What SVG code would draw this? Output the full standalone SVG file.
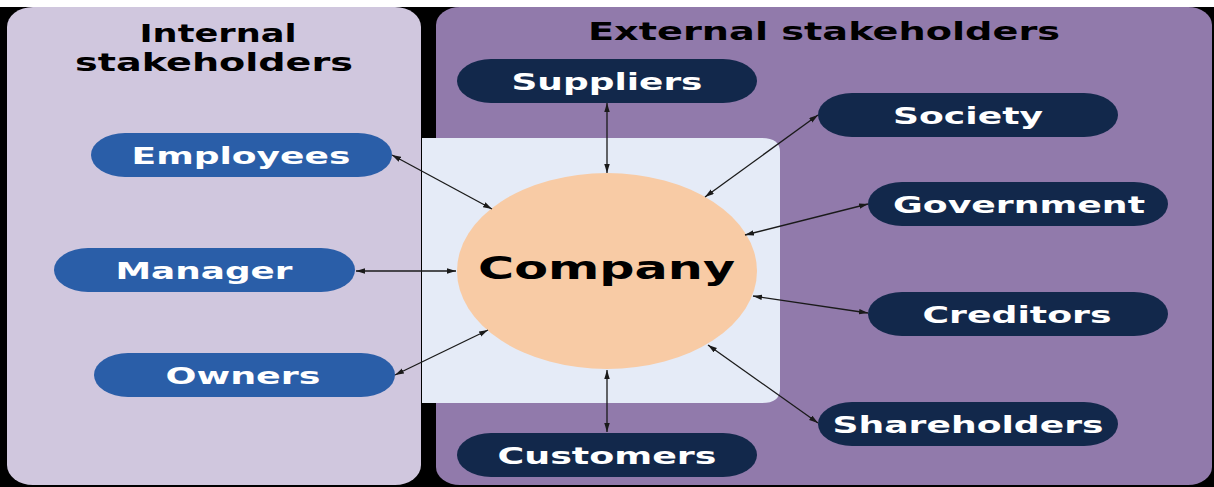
<svg xmlns="http://www.w3.org/2000/svg" width="1214" height="487" viewBox="0 0 1214 487">
  <style>
    .t { font-family: "DejaVu Sans", "Verdana", sans-serif; font-weight: bold; text-anchor: middle; }
    .pt { font-size: 23px; fill: #ffffff; }
    .int { fill: #2a5ea8; }
    .ext { fill: #12284b; }
    .conn { stroke: #1a1a1a; stroke-width: 1.3; fill: none; marker-start: url(#ah); marker-end: url(#ah); }
  </style>
  <defs>
    <marker id="ah" markerUnits="userSpaceOnUse" markerWidth="10" markerHeight="6" refX="9" refY="2.75" orient="auto-start-reverse">
      <path d="M0,0 L9,2.75 L0,5.5 z" fill="#1a1a1a"/>
    </marker>
  </defs>

  <rect x="0" y="0" width="1214" height="487" fill="#ffffff"/>
  <rect x="0" y="7" width="1214" height="480" fill="#000000"/>

  <g id="internal-panel">
    <rect x="7" y="7" width="414" height="478" rx="26" ry="20" fill="#d0c7de"/>
    <text class="t" x="218" y="42" font-size="25" textLength="157" lengthAdjust="spacingAndGlyphs">Internal</text>
    <text class="t" x="214" y="71" font-size="25" textLength="278" lengthAdjust="spacingAndGlyphs">stakeholders</text>
  </g>

  <g id="external-panel">
    <rect x="436" y="7" width="776" height="478" rx="24" ry="18" fill="#917aab"/>
    <text class="t" x="824" y="40" font-size="25" textLength="472" lengthAdjust="spacingAndGlyphs">External stakeholders</text>
  </g>

  <g id="company-area">
    <path d="M422,138 H762 Q780,138 780,152 V389 Q780,403 762,403 H422 Z" fill="#e5ebf7"/>
  </g>

  <g id="company">
    <ellipse cx="607" cy="271" rx="150" ry="98" fill="#f8cba5"/>
    <text class="t" x="606.5" y="279" font-size="32" fill="#000000" textLength="257" lengthAdjust="spacingAndGlyphs">Company</text>
  </g>

  <g id="connectors">
    <line class="conn" x1="392" y1="155" x2="492" y2="209"/>
    <line class="conn" x1="356" y1="271" x2="456" y2="271"/>
    <line class="conn" x1="395" y1="375" x2="488" y2="330"/>
    <line class="conn" x1="607" y1="103" x2="607" y2="173"/>
    <line class="conn" x1="607" y1="432" x2="607" y2="370"/>
    <line class="conn" x1="818" y1="115" x2="705" y2="197"/>
    <line class="conn" x1="868" y1="204" x2="745" y2="235"/>
    <line class="conn" x1="868" y1="313" x2="753" y2="296"/>
    <line class="conn" x1="818" y1="423" x2="708" y2="345"/>
  </g>

  <g id="employees">
    <rect class="int" x="91" y="133" width="301" height="44" rx="34" ry="22"/>
    <text class="t pt" x="241" y="163.5" textLength="219" lengthAdjust="spacingAndGlyphs">Employees</text>
  </g>
  <g id="manager">
    <rect class="int" x="54" y="248" width="301" height="44" rx="34" ry="22"/>
    <text class="t pt" x="204" y="278.5" textLength="177" lengthAdjust="spacingAndGlyphs">Manager</text>
  </g>
  <g id="owners">
    <rect class="int" x="94" y="353" width="301" height="44" rx="34" ry="22"/>
    <text class="t pt" x="243" y="383.5" textLength="155" lengthAdjust="spacingAndGlyphs">Owners</text>
  </g>

  <g id="suppliers">
    <rect class="ext" x="457" y="59" width="300" height="44" rx="34" ry="22"/>
    <text class="t pt" x="607" y="89.5" textLength="191" lengthAdjust="spacingAndGlyphs">Suppliers</text>
  </g>
  <g id="society">
    <rect class="ext" x="818" y="93" width="300" height="44" rx="34" ry="22"/>
    <text class="t pt" x="968" y="123.5" textLength="150" lengthAdjust="spacingAndGlyphs">Society</text>
  </g>
  <g id="government">
    <rect class="ext" x="868" y="182" width="300" height="44" rx="34" ry="22"/>
    <text class="t pt" x="1019" y="212.5" textLength="252" lengthAdjust="spacingAndGlyphs">Government</text>
  </g>
  <g id="creditors">
    <rect class="ext" x="868" y="292" width="300" height="44" rx="34" ry="22"/>
    <text class="t pt" x="1017" y="322.5" textLength="189" lengthAdjust="spacingAndGlyphs">Creditors</text>
  </g>
  <g id="shareholders">
    <rect class="ext" x="818" y="402" width="300" height="44" rx="34" ry="22"/>
    <text class="t pt" x="968" y="432.5" textLength="271" lengthAdjust="spacingAndGlyphs">Shareholders</text>
  </g>
  <g id="customers">
    <rect class="ext" x="457" y="433" width="300" height="44" rx="34" ry="22"/>
    <text class="t pt" x="607" y="463.5" textLength="219" lengthAdjust="spacingAndGlyphs">Customers</text>
  </g>
</svg>
